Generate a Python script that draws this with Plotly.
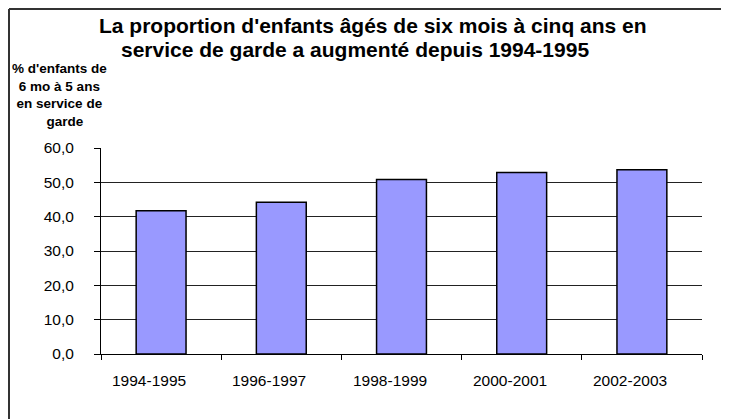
import plotly.graph_objects as go

categories = ["1994-1995", "1996-1997", "1998-1999", "2000-2001", "2002-2003"]
values = [41.7, 44.2, 50.8, 52.9, 53.7]
y_ticks = [0, 10, 20, 30, 40, 50, 60]
title_lines = ["La proportion d'enfants âgés de six mois à cinq ans en",
               "service de garde a augmenté depuis 1994-1995"]
y_title = "% d'enfants de<br>6 mo à 5 ans<br>en service de<br>   garde"

FONT = "Liberation Sans, Arial, sans-serif"

# page body has an 8px margin: figure drawn at offset (8, 8)
W, H = 721, 411
L, R, T, B = 93, 27, 140, 65
PW, PH = W - L - R, H - T - B


def px(fx):
    return (fx - L) / PW


def py(fy):
    return (H - B - fy) / PH


fig = go.Figure(go.Bar(
    x=categories, y=values,
    marker=dict(color="#9999FF", line=dict(color="#000000", width=1.5)),
    hoverinfo="x+y",
))

fig.update_layout(
    width=W, height=H,
    margin=dict(l=L, r=R, t=T, b=B),
    paper_bgcolor="white", plot_bgcolor="white",
    separators=", ",
    bargap=0.585,
    showlegend=False,
    font=dict(family=FONT, size=15.5, color="#000"),
)

fig.update_xaxes(
    type="category", tickson="boundaries", ticks="outside", ticklen=5,
    tickcolor="#000", showline=True, linecolor="#000", linewidth=1,
    showgrid=False, showticklabels=False,
)
fig.update_yaxes(
    range=[0, 60], tickvals=y_ticks, tickformat=".1f",
    ticks="outside", ticklen=6, tickcolor="#000",
    showline=True, linecolor="#000", linewidth=1,
    showgrid=True, gridcolor="#222", gridwidth=1,
    zeroline=False, ticklabelstandoff=17,
    tickfont=dict(family=FONT, size=15.5, color="#000"),
)

# category labels (drawn slightly left of the bar centres, as in the original)
for cat in categories:
    fig.add_annotation(
        text=cat, xref="x", yref="paper", x=cat, y=0,
        xanchor="center", yanchor="middle", xshift=-12, yshift=-26,
        showarrow=False,
        font=dict(family=FONT, size=15.5, color="#000"),
    )

# title, two lines
for txt, cx, cy in [(title_lines[0], 364.5, 17.6), (title_lines[1], 347, 41)]:
    fig.add_annotation(
        text=txt, xref="paper", yref="paper", x=px(cx), y=py(cy),
        xanchor="center", yanchor="middle", showarrow=False,
        font=dict(family=FONT, size=21, color="#000", weight="bold"),
    )

# y axis title
fig.add_annotation(
    text=y_title, xref="paper", yref="paper", x=px(51), y=py(86.8),
    xanchor="center", yanchor="middle", showarrow=False, align="center",
    font=dict(family=FONT, size=13.5, color="#000", weight="bold"),
)

# outer frame lines (left and top)
fig.add_shape(type="line", xref="paper", yref="paper",
              x0=px(1), x1=px(W + 5), y0=py(1), y1=py(1),
              line=dict(color="#333", width=2))
fig.add_shape(type="line", xref="paper", yref="paper",
              x0=px(1), x1=px(1), y0=py(1), y1=py(H + 5),
              line=dict(color="#333", width=2))

fig.write_html("out.html")
